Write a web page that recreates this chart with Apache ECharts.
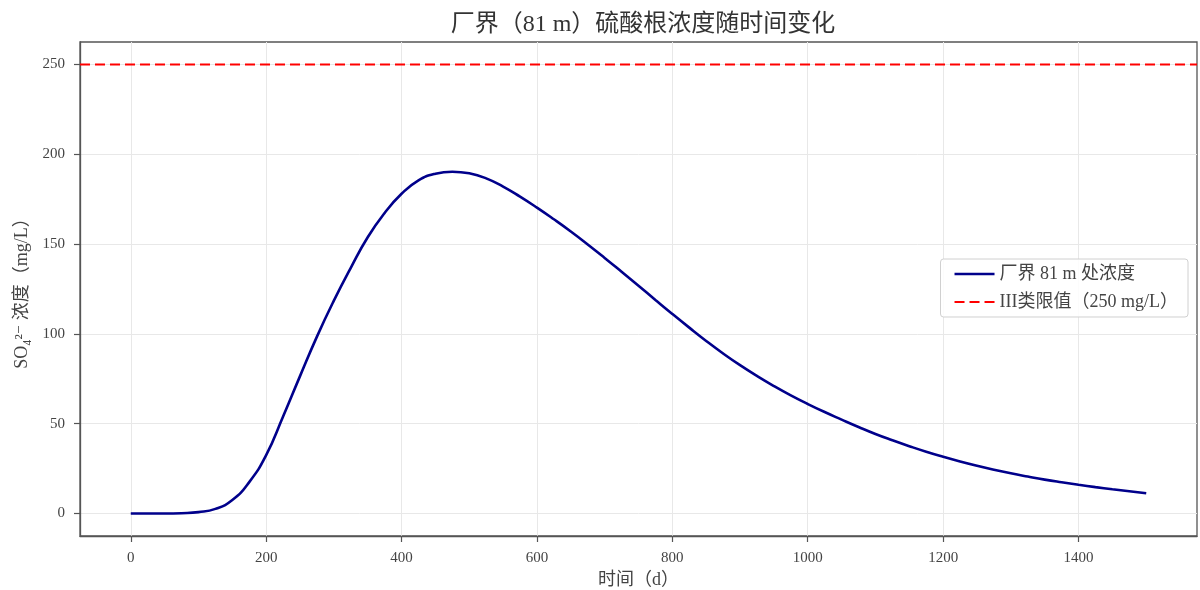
<!DOCTYPE html>
<html>
<head>
<meta charset="utf-8">
<script src="https://cdn.jsdelivr.net/npm/echarts@6/dist/echarts.min.js"></script>
<style>html,body{margin:0;padding:0;background:#fff}#c{width:1200px;height:590px}</style>
</head>
<body>
<div id="c"></div>
<script>
const titleText = '厂界（81 m）硫酸根浓度随时间变化';
const xName = '时间（d）';
const yName = 'SO₄²⁻ 浓度（mg/L）';
const seriesName = '厂界 81 m 处浓度';
const limitName = 'III类限值（250 mg/L）';
const days = [0,25,50,75,100,125,150,175,200,225,250,275,300,325,350,375,400,425,450,475,500,525,550,575,600,625,650,675,700,725,750,775,800,825,850,875,900,925,950,975,1000,1025,1050,1075,1100,1125,1150,1175,1200,1225,1250,1275,1300,1325,1350,1375,1400,1425,1450,1475,1500];
const conc = [0,0,0,0.2,0.8,2.6,7.5,17.5,32.5,54,76.5,98.5,118.5,136.8,153.8,167.3,178,185.5,189.2,190.3,189.4,186.6,182,176.4,170.3,163.8,157,149.8,142.3,134.6,126.8,118.9,111.1,103.5,96.1,89.1,82.6,76.6,71,65.8,61,56.5,52.3,48.2,44.3,40.8,37.5,34.4,31.6,29,26.6,24.4,22.4,20.6,18.9,17.4,16,14.7,13.5,12.4,11.3];
const limitValue = 250;
const xTicks = [0,200,400,600,800,1000,1200,1400];
const yTicks = [0,50,100,150,200,250];
const xMin = -75, xMax = 1575, yMin = -12.5, yMax = 262.5;

const serif = "'Liberation Serif','DejaVu Serif','Noto Sans CJK SC',serif";
const chart = echarts.init(document.getElementById('c'));
const axisCommon = {
  axisLine: {show: true, onZero: false, lineStyle: {color: '#555', width: 1.3}},
  axisTick: {show: true, inside: false, length: 6, lineStyle: {color: '#555', width: 1.2}},
  axisLabel: {color: '#444', fontFamily: serif, fontSize: 15, formatter: v => String(v)},
  splitLine: {show: true, lineStyle: {color: '#e8e8e8', width: 1}}
};
chart.setOption({
  animation: false,
  backgroundColor: '#fff',
  title: {text: titleText, left: 638, textAlign: 'center', top: 8, textStyle: {fontFamily: serif, fontSize: 24, fontWeight: 'normal', color: '#333'}},
  grid: {left: 80, right: 3, top: 42, bottom: 54, outerBoundsMode: 'none', containLabel: false, show: true, borderColor: '#555', borderWidth: 1.3},
  legend: {
    orient: 'vertical', right: 12, top: 259,
    backgroundColor: 'rgba(255,255,255,0.85)', borderColor: '#d0d0d0', borderWidth: 1, borderRadius: 3,
    padding: [6, 10, 6, 14], itemGap: 10, itemWidth: 40, itemHeight: 14,
    textStyle: {fontFamily: serif, fontSize: 18, color: '#444'},
    data: [
      {name: seriesName, icon: 'path://M0,0h40v2.6h-40z', itemStyle: {color: '#00008B'}},
      {name: limitName, icon: 'path://M0,0h10v2.2h-10z M15,0h10v2.2h-10z M30,0h10v2.2h-10z', itemStyle: {color: '#ff0000'}}
    ]
  },
  xAxis: Object.assign({}, axisCommon, {
    type: 'value', min: xMin, max: xMax,
    axisTick: Object.assign({}, axisCommon.axisTick, {customValues: xTicks}),
    axisLabel: Object.assign({}, axisCommon.axisLabel, {customValues: xTicks, margin: 15}),
    name: xName, nameLocation: 'middle', nameGap: 34,
    nameTextStyle: {fontFamily: serif, fontSize: 18, color: '#444'}
  }),
  yAxis: Object.assign({}, axisCommon, {
    type: 'value', min: yMin, max: yMax,
    axisTick: Object.assign({}, axisCommon.axisTick, {customValues: yTicks}),
    axisLabel: Object.assign({}, axisCommon.axisLabel, {customValues: yTicks, margin: 15}),
    name: yName, nameLocation: 'middle', nameGap: 48,
    nameTextStyle: {fontFamily: serif, fontSize: 18, color: '#444'}
  }),
  series: [
    {name: seriesName, type: 'line', data: days.map((d, i) => [d, conc[i]]), smooth: true, showSymbol: false, symbol: 'none',
     lineStyle: {color: '#00008B', width: 2.6}, itemStyle: {color: '#00008B'}, z: 3},
    {name: limitName, type: 'line', data: [[xMin, limitValue], [xMax, limitValue]], showSymbol: false, symbol: 'none',
     lineStyle: {color: '#ff0000', width: 2, type: [10, 5]}, itemStyle: {color: '#ff0000'}, z: 2}
  ]
});
</script>
</body>
</html>
